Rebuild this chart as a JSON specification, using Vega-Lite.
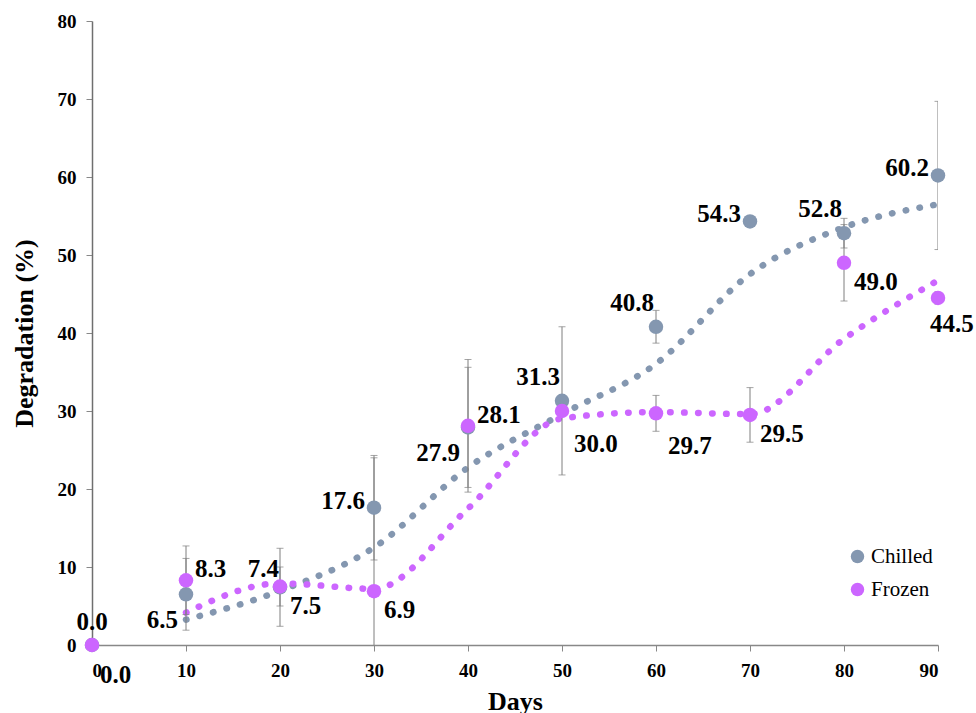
{
  "$schema": "https://vega.github.io/schema/vega-lite/v6.json",
  "autosize": "none",
  "width": 846,
  "height": 624,
  "padding": {"left": 92, "top": 21, "right": 38, "bottom": 68},
  "background": "white",
  "config": {
    "view": {"stroke": null},
    "font": "'Liberation Serif', 'Times New Roman', Times, serif",
    "axis": {
      "grid": false,
      "labelFont": "'Liberation Serif', 'Times New Roman', Times, serif",
      "labelFontWeight": "bold",
      "labelFontSize": 19,
      "labelColor": "#000000",
      "titleFont": "'Liberation Serif', 'Times New Roman', Times, serif",
      "titleFontWeight": "bold",
      "titleFontSize": 26,
      "titleColor": "#000000",
      "tickSize": 6,
      "tickColor": "#888888",
      "domainColor": "#888888",
      "domainWidth": 1.5,
      "tickWidth": 1
    }
  },
  "resolve": {"legend": {"color": "independent"}},
  "data": {
    "values": [
      {"day": 0, "series": "Chilled", "value": 0.0, "err": null, "trend": null},
      {"day": 10, "series": "Chilled", "value": 6.5, "err": 4.6, "trend": 3.25},
      {"day": 20, "series": "Chilled", "value": 7.4, "err": 5.0, "trend": 6.95},
      {"day": 30, "series": "Chilled", "value": 17.6, "err": 6.7, "trend": 12.5},
      {"day": 40, "series": "Chilled", "value": 27.9, "err": 7.7, "trend": 22.75},
      {"day": 50, "series": "Chilled", "value": 31.3, "err": 9.5, "trend": 29.6},
      {"day": 60, "series": "Chilled", "value": 40.8, "err": 2.1, "trend": 36.05},
      {"day": 70, "series": "Chilled", "value": 54.3, "err": null, "trend": 47.55},
      {"day": 80, "series": "Chilled", "value": 52.8, "err": 1.9, "trend": 53.55},
      {"day": 90, "series": "Chilled", "value": 60.2, "err": 9.5, "trend": 56.5},
      {"day": 0, "series": "Frozen", "value": 0.0, "err": null, "trend": null},
      {"day": 10, "series": "Frozen", "value": 8.3, "err": 4.4, "trend": 4.15},
      {"day": 20, "series": "Frozen", "value": 7.5, "err": 2.5, "trend": 7.9},
      {"day": 30, "series": "Frozen", "value": 6.9, "err": 17.1, "trend": 7.2},
      {"day": 40, "series": "Frozen", "value": 28.1, "err": 8.5, "trend": 17.5},
      {"day": 50, "series": "Frozen", "value": 30.0, "err": null, "trend": 29.05},
      {"day": 60, "series": "Frozen", "value": 29.7, "err": 2.3, "trend": 29.85},
      {"day": 70, "series": "Frozen", "value": 29.5, "err": 3.5, "trend": 29.6},
      {"day": 80, "series": "Frozen", "value": 49.0, "err": 4.9, "trend": 39.25},
      {"day": 90, "series": "Frozen", "value": 44.5, "err": 0.8, "trend": 46.75}
    ]
  },
  "encoding": {
    "x": {
      "field": "day",
      "type": "quantitative",
      "scale": {"domain": [0, 90], "nice": false, "zero": false},
      "axis": {
        "values": [0, 10, 20, 30, 40, 50, 60, 70, 80, 90],
        "title": "Days",
        "labelPadding": 10,
        "titleX": 423,
        "titleY": 64,
        "titleAlign": "center",
        "titleBaseline": "alphabetic"
      }
    }
  },
  "layer": [
    {
      "transform": [{"filter": "datum.trend != null"}],
      "mark": {
        "type": "line",
        "interpolate": "monotone",
        "strokeWidth": 6.5,
        "strokeCap": "round",
        "strokeDash": [0.5, 13.5]
      },
      "encoding": {
        "y": {"field": "trend", "type": "quantitative", "title": "Degradation (%)"},
        "color": {"field": "series", "type": "nominal", "scale": {"domain": ["Chilled", "Frozen"], "range": ["#8497B0", "#CC66FF"]}, "legend": null}
      }
    },
    {
      "transform": [{"filter": "datum.err != null"}],
      "mark": {"type": "errorbar", "clip": true, "ticks": {"size": 7, "color": "#7f7f7f", "strokeWidth": 1}, "rule": {"color": "#7f7f7f", "strokeWidth": 1}},
      "encoding": {
        "y": {"field": "value", "type": "quantitative", "title": "Degradation (%)"},
        "yError": {"field": "err"},
        "detail": {"field": "series", "type": "nominal"}
      }
    },
    {
      "mark": {"type": "point", "filled": true, "opacity": 1, "size": 210, "shape": "circle"},
      "encoding": {
        "y": {
          "field": "value",
          "type": "quantitative",
          "scale": {"domain": [0, 80], "nice": false},
          "title": "Degradation (%)",
          "axis": {
            "values": [0, 10, 20, 30, 40, 50, 60, 70, 80],
            "labelPadding": 10,
            "domainColor": "#6f6f6f",
            "titleX": -68,
            "titleY": 312,
            "titleAngle": 270,
            "titleAlign": "center",
            "titleBaseline": "middle"
          }
        },
        "color": {
          "field": "series",
          "type": "nominal",
          "scale": {"domain": ["Chilled", "Frozen"], "range": ["#8497B0", "#CC66FF"]},
          "legend": {
            "title": null,
            "orient": "none",
            "legendX": 755,
            "legendY": 525,
            "symbolType": "circle",
            "symbolSize": 180,
            "symbolStrokeWidth": 0,
            "symbolOpacity": 1,
            "labelFont": "'Liberation Serif', 'Times New Roman', Times, serif",
            "labelFontSize": 21,
            "labelColor": "#000000",
            "labelOffset": 3,
            "rowPadding": 11,
            "padding": 0
          }
        }
      }
    },
    {
      "transform": [{"filter": "datum.series == 'Chilled' && (datum.day == 50 || datum.day == 60 || datum.day == 80)"}],
      "mark": {"type": "text", "align": "right", "baseline": "middle", "dx": -2, "dy": -24, "fontWeight": "bold", "fontSize": 25, "color": "#000000"},
      "encoding": {"y": {"field": "value", "type": "quantitative", "title": "Degradation (%)"}, "text": {"field": "value", "type": "quantitative", "format": ".1f"}}
    },
    {
      "transform": [{"filter": "datum.series == 'Chilled' && datum.day == 20"}],
      "mark": {"type": "text", "align": "right", "baseline": "middle", "dx": -1, "dy": -18, "fontWeight": "bold", "fontSize": 25, "color": "#000000"},
      "encoding": {"y": {"field": "value", "type": "quantitative", "title": "Degradation (%)"}, "text": {"field": "value", "type": "quantitative", "format": ".1f"}}
    },
    {
      "transform": [{"filter": "datum.series == 'Chilled' && (datum.day == 30 || datum.day == 70 || datum.day == 90)"}],
      "mark": {"type": "text", "align": "right", "baseline": "middle", "dx": -9, "dy": -7, "fontWeight": "bold", "fontSize": 25, "color": "#000000"},
      "encoding": {"y": {"field": "value", "type": "quantitative", "title": "Degradation (%)"}, "text": {"field": "value", "type": "quantitative", "format": ".1f"}}
    },
    {
      "transform": [{"filter": "datum.series == 'Chilled' && (datum.day == 10 || datum.day == 40)"}],
      "mark": {"type": "text", "align": "right", "baseline": "middle", "dx": -8, "dy": 26, "fontWeight": "bold", "fontSize": 25, "color": "#000000"},
      "encoding": {"y": {"field": "value", "type": "quantitative", "title": "Degradation (%)"}, "text": {"field": "value", "type": "quantitative", "format": ".1f"}}
    },
    {
      "transform": [{"filter": "datum.series == 'Chilled' && datum.day == 0"}],
      "mark": {"type": "text", "align": "center", "baseline": "middle", "dx": 0, "dy": -23, "fontWeight": "bold", "fontSize": 25, "color": "#000000"},
      "encoding": {"y": {"field": "value", "type": "quantitative", "title": "Degradation (%)"}, "text": {"field": "value", "type": "quantitative", "format": ".1f"}}
    },
    {
      "transform": [{"filter": "datum.series == 'Frozen' && (datum.day == 10 || datum.day == 40)"}],
      "mark": {"type": "text", "align": "left", "baseline": "middle", "dx": 9, "dy": -11, "fontWeight": "bold", "fontSize": 25, "color": "#000000"},
      "encoding": {"y": {"field": "value", "type": "quantitative", "title": "Degradation (%)"}, "text": {"field": "value", "type": "quantitative", "format": ".1f"}}
    },
    {
      "transform": [{"filter": "datum.series == 'Frozen' && (datum.day == 20 || datum.day == 30 || datum.day == 70 || datum.day == 80)"}],
      "mark": {"type": "text", "align": "left", "baseline": "middle", "dx": 10, "dy": 19, "fontWeight": "bold", "fontSize": 25, "color": "#000000"},
      "encoding": {"y": {"field": "value", "type": "quantitative", "title": "Degradation (%)"}, "text": {"field": "value", "type": "quantitative", "format": ".1f"}}
    },
    {
      "transform": [{"filter": "datum.series == 'Frozen' && (datum.day == 50 || datum.day == 60)"}],
      "mark": {"type": "text", "align": "left", "baseline": "middle", "dx": 12, "dy": 33, "fontWeight": "bold", "fontSize": 25, "color": "#000000"},
      "encoding": {"y": {"field": "value", "type": "quantitative", "title": "Degradation (%)"}, "text": {"field": "value", "type": "quantitative", "format": ".1f"}}
    },
    {
      "transform": [{"filter": "datum.series == 'Frozen' && datum.day == 0"}],
      "mark": {"type": "text", "align": "left", "baseline": "middle", "dx": 8, "dy": 30, "fontWeight": "bold", "fontSize": 25, "color": "#000000"},
      "encoding": {"y": {"field": "value", "type": "quantitative", "title": "Degradation (%)"}, "text": {"field": "value", "type": "quantitative", "format": ".1f"}}
    },
    {
      "transform": [{"filter": "datum.series == 'Frozen' && datum.day == 90"}],
      "mark": {"type": "text", "align": "left", "baseline": "middle", "dx": -8, "dy": 26, "fontWeight": "bold", "fontSize": 25, "color": "#000000"},
      "encoding": {"y": {"field": "value", "type": "quantitative", "title": "Degradation (%)"}, "text": {"field": "value", "type": "quantitative", "format": ".1f"}}
    }
  ]
}
